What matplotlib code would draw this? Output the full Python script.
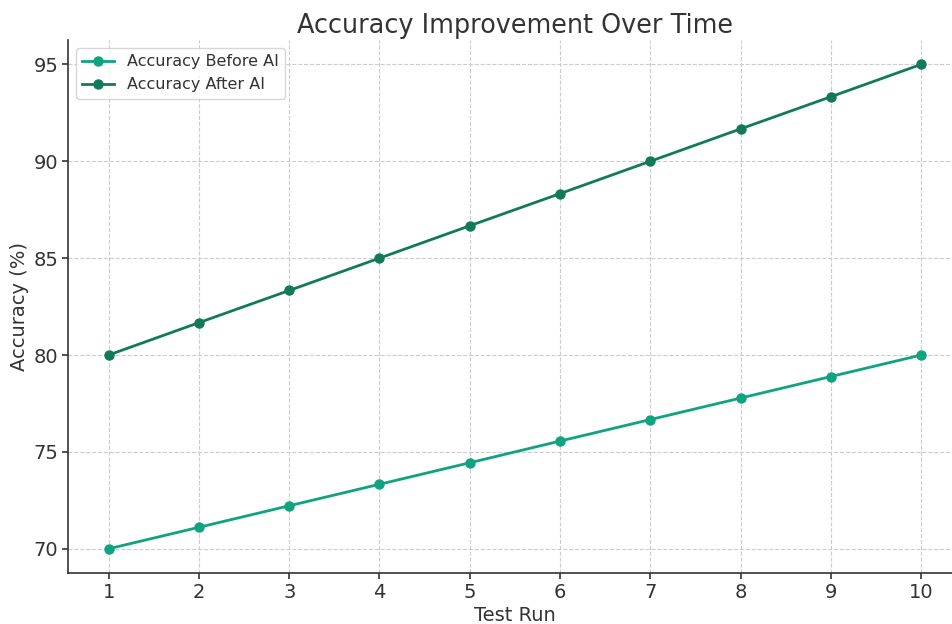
import matplotlib
matplotlib.use("Agg")
import matplotlib.pyplot as plt

# data
test_runs = [1, 2, 3, 4, 5, 6, 7, 8, 9, 10]
acc_before = [70.0, 71.11, 72.22, 73.33, 74.44, 75.56, 76.67, 77.78, 78.89, 80.0]
acc_after = [80.0, 81.67, 83.33, 85.0, 86.67, 88.33, 90.0, 91.67, 93.33, 95.0]

plt.rcParams['font.family'] = ['DejaVu Sans']
text_color = '#333333'

fig = plt.figure(figsize=(9.52, 6.24), dpi=100)
ax = fig.add_axes([0.0714, 0.0817, 0.939, 0.854])

ax.plot(test_runs, acc_before, marker='o', color='#10a37f', linewidth=2, markersize=6.5,
        label='Accuracy Before AI')
ax.plot(test_runs, acc_after, marker='o', color='#127a5b', linewidth=2, markersize=6.5,
        label='Accuracy After AI')

ax.set_title('Accuracy Improvement Over Time', fontsize=18.4, color=text_color, pad=5)
ax.set_xlabel('Test Run', fontsize=14, color=text_color, labelpad=3)
ax.set_ylabel('Accuracy (%)', fontsize=14, color=text_color, labelpad=3)
ax.set_xticks(test_runs)
ax.set_yticks([70, 75, 80, 85, 90, 95])
ax.tick_params(labelsize=14, colors=text_color, width=1.2, length=4, pad=3)
ax.grid(True, linestyle='--', color='#cccccc', linewidth=0.8)
ax.set_axisbelow(True)

for side in ['top', 'right']:
    ax.spines[side].set_visible(False)
for side in ['left', 'bottom']:
    ax.spines[side].set_color(text_color)
    ax.spines[side].set_linewidth(1.2)

leg = ax.legend(loc='upper left', fontsize=11.5, frameon=True)
for t in leg.get_texts():
    t.set_color(text_color)

fig.savefig('out.png', dpi=100)
